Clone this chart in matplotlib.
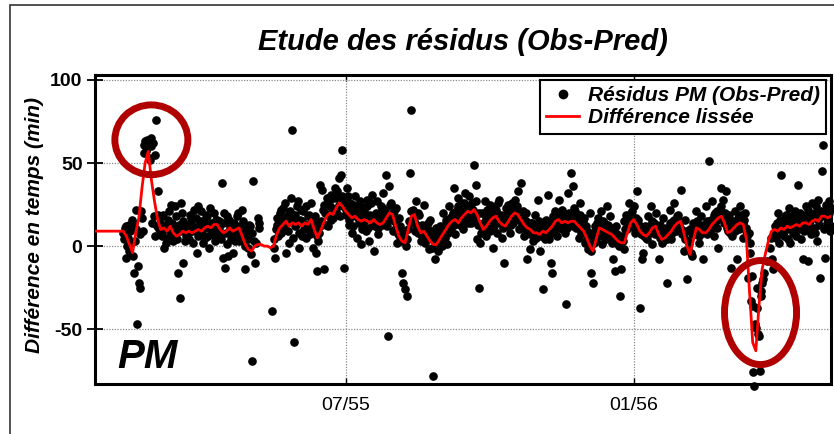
import numpy as np
import pandas as pd
import matplotlib
matplotlib.use("Agg")
import matplotlib.pyplot as plt
import matplotlib.dates as mdates
from matplotlib.patches import Ellipse, Rectangle
from matplotlib.lines import Line2D

plt.rcParams['font.family'] = ['Liberation Sans', 'DejaVu Sans']

nan = np.nan

# Résidus Obs - Pred des heures de pleine mer (minutes), pleine mer du matin
residus_debut = "1955-02-09"
residus = [
    8, 11, -7, 5, 13, 2, 14, -16, 22, -47, -22, -25, 17, 56, 63, 59, 61, 52, 65, 62, 55, 76, 33, 10,
    7, 18, -1, 12, 5, 21, 9, 14, 3, 24, 8, -16, -31, 26, -10, 11, 6,
    13, 4, 17, 9, 22, 11, -4, 24, 7, 15, 2, 12, 19, 6, -1, 14, 10, 20, 5, 16,
    15, 8, 38, -7, -13, 18, -6, 12, 4, -4, 14, 9, 20, 3, 11, 22, 7, -14, 10, -1,
    12, -69, 39, -10, 2, 17, 11, nan, nan, nan, nan, nan, nan, nan, -39, -1, -7, 13, 6, 20,
    8, 23, 15, -4, 19, 2, 29, 70, -58, 12, 24, -1, 16, 6, 21, 11, 5, 18, 9, 26,
    -1, 14, -4, -15, 8, 37, 34, -14, 20, 29, 12, 24, 31, 17, 35, 21, 29, 41, 43, 58,
    -13, 22, 35, 13, 26, 8, 19, 30, 5, 17, 24, 1, 14, 21, 9, 28, 3, 18, 31, -3,
    12, 27, 7, 18, 23, 32, 15, 43, -54, 36, 26, 9, 21, 14, 2, 17, 5, -16, -22, -26,
    -30, 10, 44, 82, 22, 15, 27, 8, 19, 3, 13, 25, 6, 11, -2, 16, 4, -78, -8, 7,
    -3, 12, 4, 20, 9, 16, 1, 24, 12, 18, 35, 7, 22, 29, 13, 26, 10, 32, 17, 21,
    30, 14, 26, 49, 37, 4, -25, 2, 20, 11, 27, 6, 18, 9, 24, -1, 15, 22, 8, 28,
    16, 5, -10, 19, 12, 25, 8, 22, 14, 28, 17, 33, 10, 38, 21, 6, 15, -8, 11, -2,
    14, 3, 19, 7, 28, -3, 12, -26, 9, 16, 31, 4, -10, -16, 13, 21, 6, 28, 17, 10,
    20, 8, -35, 32, 15, 44, 36, 23, 11, 18, 5, 26, 13, 17, 2, 9, -2, 20, -16, -22,
    12, 4, 17, 9, 21, 1, 14, 7, 24, 10, 18, 2, -8, -15, 12, 6, -30, -14, 3, 15,
    19, 10, 26, 14, 21, 24, 8, 33, 16, -37, -8, -4, 12, 5, 18, 9, 24, 1, 14, 20,
    8, -8, 13, 2, 17, 6, -22, 11, 22, 4, 15, 26, 9, 19, 12, 34, 7, -3, 16, -20,
    3, 10, -6, 14, 7, 21, 12, 2, 18, -8, 9, 24, 15, 51, 13, 27, 6, 20, 11, -1,
    22, 35, 28, 16, 33, 9, 19, -13, 6, 14, 21, -8, 12, 24, 17, 5, 20, 9, -19, 2,
    -33, -76, -84, -49, -37, -54, -27, -22, -16, nan, -9, nan, -1, nan, -14, 12, 5, 20, 9, 43,
    14, 6, 19, 10, 23, 2, 15, 8, 21, 12, 37, 17, 4, -8, 13, 24, -9, 18, 7, 26,
    11, 20, 3, 28, -19, 45, 61, -7, 22, 15, 27, 12,
]

# Résidus de la pleine mer du soir (minutes)
residus_soir_debut = "1955-02-09 12:00"
residus_soir = [
    4, 12, 0, -3, 9, 16, -6, 3, 10, -12, 7,
    21, 9, 61, 57, 64, 53, 60, 14, 18, 6, 12, 19,
    14, 6, 19, 10, 2, 16, 12, 25, 7, 11, 18, 4, 13, 9, 20, 15, 3, 12,
    8, 19, 14, 2, 10, 17, 6, 13, 21, 9, 15, 5, 18, 11, 23, 7, 12, 3, 16, 9,
    11, 4, 14, 20, 8, 1, 16, 10, 6, 13, 3, 18, 8, 12, 5, 15, 0, 9, 4, 13,
    -5, 8, 3, nan, nan, 14, nan, nan, nan, nan, nan, nan, nan, nan, nan, 4, 10, 17, 12, 22,
    17, 11, 26, 14, 9, 21, 16, 5, 19, 13, 27, 8, 22, 15, 10, 24, 13, 19, 7, 16,
    10, 18, 6, 3, 12, 15, 22, 25, 13, 19, 27, 16, 23, 29, 20, 33, 25, 18, 30, 24,
    27, 19, 30, 16, 23, 12, 25, 18, 21, 14, 27, 10, 20, 16, 24, 11, 19, 26, 13, 17,
    20, 11, 16, 24, 13, 19, 22, 12, 18, 25, 16, 20, 10, 23, 7, 12, 3, 9, 6, 0,
    4, 15, 21, 14, 18, 9, 13, 20, 10, 6, 12, 2, 8, 14, 5, 9, -1, 4, 11, 2,
    6, 9, 0, 12, 5, 14, 8, 17, 11, 20, 13, 16, 24, 18, 21, 15, 26, 19, 23, 14,
    25, 18, 22, 16, 27, 13, 20, 8, 14, 11, 17, 22, 13, 25, 19, 12, 21, 16, 26, 14,
    19, 11, 15, 23, 17, 20, 13, 26, 18, 22, 24, 16, 19, 13, 17, 10, 20, 12, 7, 14,
    8, 12, 5, 11, 15, 6, 10, 13, 4, 9, 12, 7, 14, 18, 10, 16, 11, 19, 13, 22,
    15, 18, 11, 20, 14, 17, 12, 21, 16, 13, 19, 8, 15, 10, 12, 4, 6, -3, 8, 2,
    7, 14, 9, 12, 6, 15, 10, 4, 13, 8, 11, 5, 9, 2, 7, 0, 4, 6, -2, 10,
    14, 18, 12, 20, 16, 11, 17, 9, 13, 7, 10, 6, 9, 4, 12, 8, 15, 11, 7, 13,
    12, 5, 9, 3, 7, 11, 4, 10, 14, 8, 16, 13, 18, 11, 15, 10, 7, 4, 9, -2,
    2, -4, 7, 12, 9, 15, 6, 11, 8, 13, 10, 7, 14, 9, 16, 12, 19, 15, 21, 17,
    24, 19, 14, 20, 11, 16, 8, 12, 15, 9, 13, 17, 10, 19, 14, 16, 11, 6, 8, -4,
    -18, -36, -47, -25, -53, -75, -30, -20, nan, nan, nan, nan, 5, -8, nan, 8, 14, 2, 16, 7,
    9, 17, 12, 4, 15, 11, 19, 13, 6, 16, 10, 20, 14, 9, 18, 12, 22, 15, 11, 19,
    8, 24, 16, 13, 21, 18, 10, 25, 14, 20, 9, 23,
]

# Différence lissée, un point tous les deux jours (minutes)
lisse_debut = "1955-01-22"
lisse = [
    9, 9, 9, 9, 9, 9, 9, 9, 9, 9,
    6, 1, -4, 8, 17, 35, 50, 57, 40, 27,
    16, 10, 11, 9, 12, 8, 6, 7, 9, 8,
    9, 8, 9, 10, 9, 11, 12, 11, 13, 13,
    10, 8, 9, 11, 9, 10, 11, 6, 1, -2,
    -3, 0, 1, 1, 0, 0, -1, 0, 7, 11,
    13, 15, 12, 14, 13, 14, 12, 14, 13, 16,
    10, 5, 9, 14, 18, 20, 19, 23, 26, 24,
    21, 19, 17, 18, 16, 15, 16, 15, 14, 16,
    14, 13, 14, 17, 20, 19, 12, 6, 3, 2,
    10, 18, 19, 12, 8, 9, 6, 3, 1, 1,
    4, 7, 10, 13, 15, 16, 14, 17, 19, 21,
    20, 22, 19, 14, 10, 12, 15, 17, 18, 15,
    13, 12, 15, 18, 20, 19, 16, 13, 11, 10,
    8, 8, 7, 9, 8, 10, 12, 15, 16, 14,
    15, 14, 15, 15, 13, 11, 9, 5, 0, -3,
    4, 11, 10, 9, 8, 7, 5, 3, 2, 2,
    8, 14, 16, 13, 9, 7, 6, 8, 11, 12,
    7, 4, 5, 7, 9, 12, 14, 15, 8, 0,
    -5, 3, 11, 10, 8, 8, 10, 13, 15, 17,
    18, 14, 8, 9, 11, 13, 14, 13, 4, -28,
    -58, -63, -36, -14, -5, 3, 9, 10, 9, 11,
    10, 12, 11, 12, 13, 12, 14, 14, 13, 15,
    16, 15, 18, 18, 17, 18,
]

x_debut, x_fin = "1955-01-22", "1956-05-06"
tick_dates = ["1955-07-01", "1956-01-01"]
tick_labels = ["07/55", "01/56"]
y_ticks = [-50, 0, 50, 100]
y_min, y_max = -83, 103

dates_res = pd.date_range(residus_debut, periods=len(residus), freq="D")
dates_soir = pd.date_range(residus_soir_debut, periods=len(residus_soir), freq="D")
dates_lis = pd.date_range(lisse_debut, periods=len(lisse), freq="2D")

fig = plt.figure(figsize=(8.34, 4.34), dpi=100)
ax = fig.add_axes([95 / 834, 50 / 434, 736 / 834, 309 / 434])

# cadre extérieur de la figure
fig.add_artist(Rectangle((10 / 834, -0.05), 1.0, 1.05 - 5 / 434,
                         transform=fig.transFigure, fill=False,
                         ec="#333333", lw=1.2))

for d, v in [(dates_res, residus), (dates_soir, residus_soir)]:
    ax.plot(d, v, "o", color="black", ms=5.2, mec="black",
            clip_on=False, zorder=3)
ax.plot(dates_lis, lisse, color="#ff0000", lw=2.0, zorder=4)

ax.set_xlim(pd.Timestamp(x_debut), pd.Timestamp(x_fin))
ax.set_ylim(y_min, y_max)

ax.set_yticks(y_ticks)
ax.set_yticklabels([str(v) for v in y_ticks], fontsize=14, fontweight="bold")
ax.set_xticks(pd.to_datetime(tick_dates))
ax.set_xticklabels(tick_labels, fontsize=14)
ax.tick_params(axis="y", direction="inout", length=12, width=1.3, pad=3)
ax.tick_params(axis="x", direction="in", length=4, width=1.0, top=True, pad=9)

ax.grid(True, color="#8a8a8a", ls=(0, (1, 1.2)), lw=0.9)
ax.set_axisbelow(True)
for s in ax.spines.values():
    s.set_linewidth(2.2)

fig.text(463 / 834, 1 - 42 / 434, "Etude des résidus (Obs-Pred)",
         ha="center", va="center", fontsize=21, fontweight="bold",
         fontstyle="italic")
fig.text(35 / 834, 1 - 225 / 434, "Différence en temps (min)",
         ha="center", va="center", rotation=90, fontsize=15,
         fontweight="bold", fontstyle="italic")
ax.text(0.03, 0.052, "PM", transform=ax.transAxes, ha="left", va="baseline",
        fontsize=29, fontweight="bold", fontstyle="italic", zorder=5)

handles = [
    Line2D([], [], ls="none", marker="o", color="black", ms=6),
    Line2D([], [], color="#ff0000", lw=2.0),
]
leg = ax.legend(handles, ["Résidus PM (Obs-Pred)", "Différence lissée"],
                loc="upper right", bbox_to_anchor=(0.993, 0.984),
                borderaxespad=0, fancybox=False, framealpha=1,
                edgecolor="black", handlelength=1.6, handletextpad=0.4,
                borderpad=0.3, labelspacing=0.15,
                prop=dict(family="Liberation Sans", weight="bold",
                          style="italic", size=15))
leg.get_frame().set_linewidth(1.5)
leg.set_zorder(7)

# cercles de mise en évidence
rouge = "#b00000"
for centre, val, larg, haut in [("1955-02-27", 64, 46.6, 42.0),
                                ("1956-03-22", -40, 46.0, 62.6)]:
    ax.add_patch(Ellipse((mdates.date2num(pd.Timestamp(centre)), val),
                         width=larg, height=haut, fill=False, ec=rouge,
                         lw=5, zorder=6, clip_on=False))

fig.savefig("out.png", dpi=100)
